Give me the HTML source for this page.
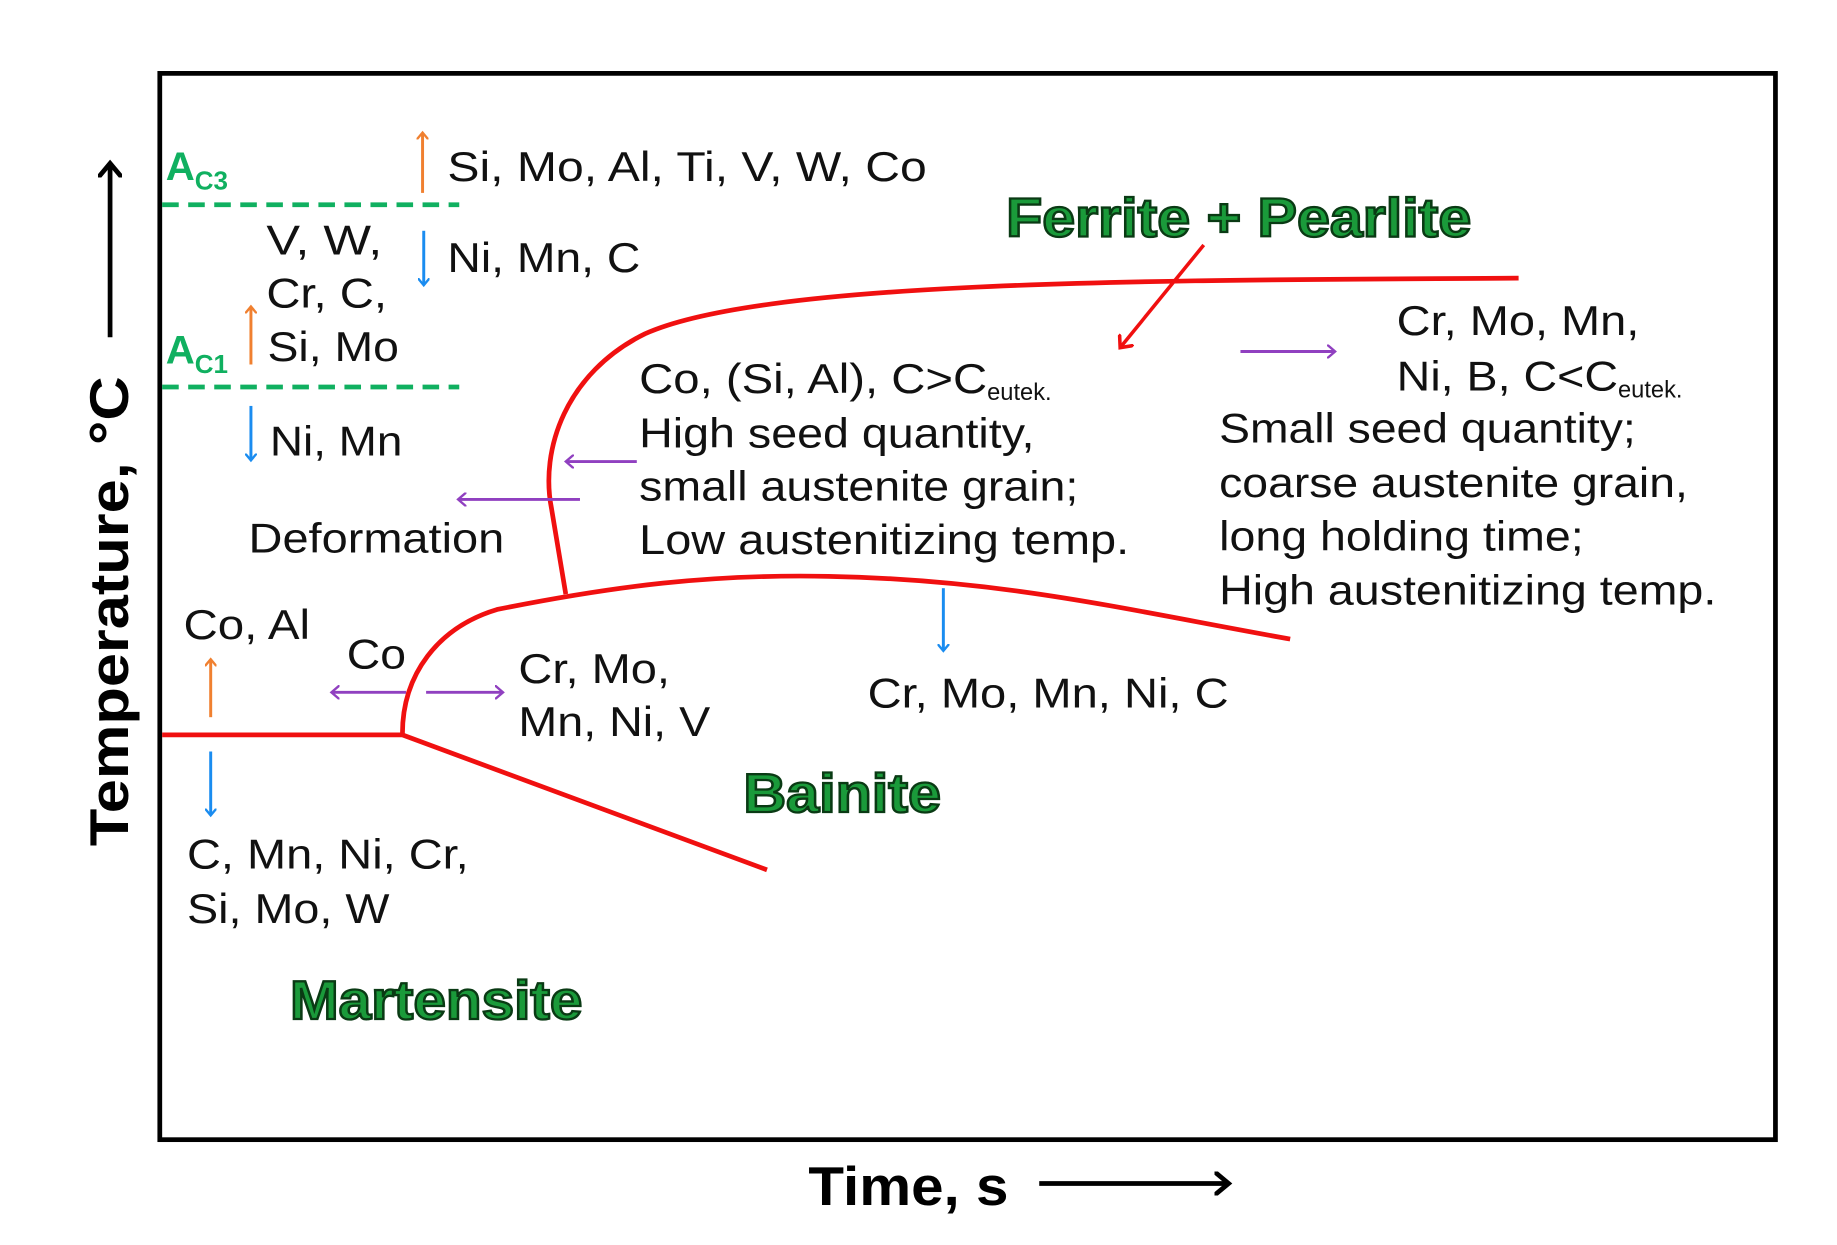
<!DOCTYPE html>
<html><head><style>html,body{margin:0;padding:0;background:#fff}svg{display:block}</style></head>
<body>
<svg width="1837" height="1245" viewBox="0 0 1552 1052" preserveAspectRatio="none" xmlns="http://www.w3.org/2000/svg" font-family="Liberation Sans, Arial, sans-serif">
<defs>
<marker id="ao" markerWidth="10" markerHeight="10" refX="5" refY="5" orient="auto" markerUnits="userSpaceOnUse"><path d="M0,0 L6,5 L0,10" fill="none" stroke="#f08030" stroke-width="2"/></marker>
<marker id="ab" markerWidth="10" markerHeight="10" refX="5" refY="5" orient="auto" markerUnits="userSpaceOnUse"><path d="M0,0 L6,5 L0,10" fill="none" stroke="#1a8cf0" stroke-width="2"/></marker>
<marker id="ap" markerWidth="12" markerHeight="12" refX="6" refY="6" orient="auto" markerUnits="userSpaceOnUse"><path d="M0,0 L7,6 L0,12" fill="none" stroke="#9040c0" stroke-width="2"/></marker>
<marker id="ar" markerWidth="16" markerHeight="16" refX="8" refY="8" orient="auto" markerUnits="userSpaceOnUse"><path d="M0,0 L9,8 L0,16" fill="none" stroke="#f01010" stroke-width="3"/></marker>
<marker id="ak" markerWidth="20" markerHeight="20" refX="12" refY="10" orient="auto" markerUnits="userSpaceOnUse"><path d="M0,0 L12,10 L0,20" fill="none" stroke="#000" stroke-width="4"/></marker>
</defs>
<rect x="135" y="62" width="1365" height="901" fill="none" stroke="#000" stroke-width="4"/>
<line x1="137" y1="173" x2="388" y2="173" stroke="#10b060" stroke-width="4" stroke-dasharray="14,8"/>
<line x1="137" y1="327" x2="388" y2="327" stroke="#10b060" stroke-width="4" stroke-dasharray="14,8"/>
<text x="140" y="152" font-size="34" font-weight="bold" fill="#10b060">A<tspan font-size="22" dy="8">C3</tspan></text>
<text x="140" y="307" font-size="34" font-weight="bold" fill="#10b060">A<tspan font-size="22" dy="8">C1</tspan></text>
<g fill="none" stroke="#f01010" stroke-width="4">
<path d="M1283,235 C1000,237 650,235 545,282 C478,315 456,380 466,430 L478,502"/>
<path d="M340,620 C340,570 370,530 420,515 C520,495 600,485 700,487 C850,490 950,515 1090,540"/>
<path d="M137,621 L340,621 L648,735"/>
</g>
<g stroke-width="2.5">
<line x1="357" y1="163" x2="357" y2="113" stroke="#f08030" marker-end="url(#ao)"/>
<line x1="212" y1="308" x2="212" y2="260" stroke="#f08030" marker-end="url(#ao)"/>
<line x1="178" y1="606" x2="178" y2="558" stroke="#f08030" marker-end="url(#ao)"/>
<line x1="358" y1="195" x2="358" y2="240" stroke="#1a8cf0" marker-end="url(#ab)"/>
<line x1="212" y1="343" x2="212" y2="388" stroke="#1a8cf0" marker-end="url(#ab)"/>
<line x1="178" y1="635" x2="178" y2="688" stroke="#1a8cf0" marker-end="url(#ab)"/>
<line x1="797" y1="497" x2="797" y2="549" stroke="#1a8cf0" marker-end="url(#ab)"/>
<line x1="538" y1="390" x2="479" y2="390" stroke="#9040c0" marker-end="url(#ap)"/>
<line x1="490" y1="422" x2="388" y2="422" stroke="#9040c0" marker-end="url(#ap)"/>
<line x1="343" y1="585" x2="281" y2="585" stroke="#9040c0" marker-end="url(#ap)"/>
<line x1="360" y1="585" x2="424" y2="585" stroke="#9040c0" marker-end="url(#ap)"/>
<line x1="1048" y1="297" x2="1127" y2="297" stroke="#9040c0" marker-end="url(#ap)"/>
<line x1="1017" y1="207" x2="947" y2="293" stroke="#f01010" stroke-width="3" marker-end="url(#ar)"/>
</g>
<g font-size="35" fill="#111">
<text x="378" y="153" textLength="405" lengthAdjust="spacingAndGlyphs">Si, Mo, Al, Ti, V, W, Co</text>
<text x="378" y="230" textLength="163" lengthAdjust="spacingAndGlyphs">Ni, Mn, C</text>
<text x="225" y="215" textLength="98" lengthAdjust="spacingAndGlyphs">V, W,</text>
<text x="225" y="260" textLength="102" lengthAdjust="spacingAndGlyphs">Cr, C,</text>
<text x="226" y="305" textLength="111" lengthAdjust="spacingAndGlyphs">Si, Mo</text>
<text x="228" y="385" textLength="112" lengthAdjust="spacingAndGlyphs">Ni, Mn</text>
<text x="210" y="467" textLength="216" lengthAdjust="spacingAndGlyphs">Deformation</text>
<text x="540" y="332"><tspan textLength="294" lengthAdjust="spacingAndGlyphs">Co, (Si, Al), C&gt;C</tspan><tspan font-size="20" dy="6">eutek.</tspan></text>
<text x="540" y="378" textLength="334" lengthAdjust="spacingAndGlyphs">High seed quantity,</text>
<text x="540" y="423" textLength="371" lengthAdjust="spacingAndGlyphs">small austenite grain;</text>
<text x="540" y="468" textLength="414" lengthAdjust="spacingAndGlyphs">Low austenitizing temp.</text>
<text x="1180" y="283" textLength="205" lengthAdjust="spacingAndGlyphs">Cr, Mo, Mn,</text>
<text x="1180" y="330"><tspan textLength="187" lengthAdjust="spacingAndGlyphs">Ni, B, C&lt;C</tspan><tspan font-size="20" dy="6">eutek.</tspan></text>
<text x="1030" y="374" textLength="352" lengthAdjust="spacingAndGlyphs">Small seed quantity;</text>
<text x="1030" y="420" textLength="396" lengthAdjust="spacingAndGlyphs">coarse austenite grain,</text>
<text x="1030" y="465" textLength="308" lengthAdjust="spacingAndGlyphs">long holding time;</text>
<text x="1030" y="511" textLength="420" lengthAdjust="spacingAndGlyphs">High austenitizing temp.</text>
<text x="155" y="540" textLength="107" lengthAdjust="spacingAndGlyphs">Co, Al</text>
<text x="293" y="565" textLength="50" lengthAdjust="spacingAndGlyphs">Co</text>
<text x="438" y="577" textLength="128" lengthAdjust="spacingAndGlyphs">Cr, Mo,</text>
<text x="438" y="622" textLength="162" lengthAdjust="spacingAndGlyphs">Mn, Ni, V</text>
<text x="733" y="598" textLength="305" lengthAdjust="spacingAndGlyphs">Cr, Mo, Mn, Ni, C</text>
<text x="158" y="734" textLength="238" lengthAdjust="spacingAndGlyphs">C, Mn, Ni, Cr,</text>
<text x="158" y="780" textLength="171" lengthAdjust="spacingAndGlyphs">Si, Mo, W</text>
</g>
<g font-size="46" font-weight="bold" fill="#1a9a3a" stroke="#0a3a14" stroke-width="2">
<text x="850" y="200" textLength="393" lengthAdjust="spacingAndGlyphs">Ferrite + Pearlite</text>
<text x="628" y="686" textLength="167" lengthAdjust="spacingAndGlyphs">Bainite</text>
<text x="245" y="861" textLength="247" lengthAdjust="spacingAndGlyphs">Martensite</text>
</g>
<text transform="translate(108,715) rotate(-90)" font-size="46" font-weight="bold" fill="#000" textLength="397" lengthAdjust="spacingAndGlyphs">Temperature, °C</text>
<line x1="93" y1="285" x2="93" y2="138" stroke="#000" stroke-width="4" marker-end="url(#ak)"/>
<text x="683" y="1018" font-size="46" font-weight="bold" fill="#000" textLength="169" lengthAdjust="spacingAndGlyphs">Time, s</text>
<line x1="878" y1="1000" x2="1038" y2="1000" stroke="#000" stroke-width="4" marker-end="url(#ak)"/>
</svg>
</body></html>
